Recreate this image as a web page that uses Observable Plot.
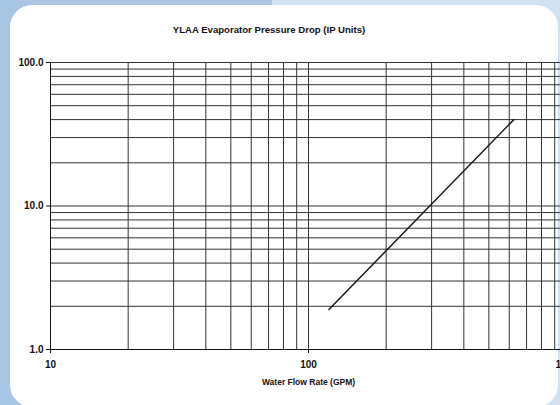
<!DOCTYPE html>
<html><head><meta charset="utf-8">
<script src="https://cdn.jsdelivr.net/npm/d3@7"></script>
<script src="https://cdn.jsdelivr.net/npm/@observablehq/plot@0.6"></script>
<style>
html,body{margin:0;padding:0;width:560px;height:405px;overflow:hidden;font-family:"Liberation Sans",Arial,sans-serif;}
body{position:relative;background:linear-gradient(to right,#a9c5e4 0,#a9c5e4 272px,#d0e1f3 272px,#d0e1f3 100%);}
#panel{position:absolute;left:10px;top:5px;width:548px;height:402px;background:#fff;border-radius:22px;}
#title{position:absolute;left:0;width:538px;top:24px;text-align:center;font-weight:bold;font-size:9.6px;color:#111;}
#chart{position:absolute;left:0;top:0;width:620px;height:405px;}
#chart svg{max-width:none !important;}
</style></head>
<body>
<div id="panel"></div>
<div id="title">YLAA Evaporator Pressure Drop (IP Units)</div>
<div id="chart"></div>
<script>
const flowGPM = [120, 625];
const pressureDrop = [1.9, 40];
const xGrid = [10,20,30,40,50,60,70,80,90,100,200,300,400,500,600,700,800,900,1000];
const yGrid = [1,2,3,4,5,6,7,8,9,10,20,30,40,50,60,70,80,90,100];
const xTicks = [10, 100, 1000];
const xTickLabels = ["10", "100", "1000"];
const yTicks = [1, 10, 100];
const yTickLabels = ["1.0", "10.0", "100.0"];
const xTitle = "Water Flow Rate (GPM)";

const data = flowGPM.map((x, i) => ({x, y: pressureDrop[i]}));
const fmtX = d => xTickLabels[xTicks.findIndex(t => Math.abs(t - d) < 1e-9)];
const fmtY = d => yTickLabels[yTicks.findIndex(t => Math.abs(t - d) < 1e-9)];

const chart = Plot.plot({
  width: 620, height: 405,
  marginLeft: 50, marginRight: 54, marginTop: 62, marginBottom: 56,
  style: {background: "transparent", fontFamily: "'Liberation Sans', Arial, sans-serif", fontSize: "10px", fontWeight: "bold", color: "#111", overflow: "visible", maxWidth: "none"},
  x: {type: "log", domain: [10, 1000]},
  y: {type: "log", domain: [1, 100]},
  marks: [
    Plot.ruleX(xGrid, {stroke: "#333", strokeWidth: 1}),
    Plot.ruleY(yGrid, {stroke: "#333", strokeWidth: 1}),
    Plot.axisX(xTicks, {tickSize: 4, tickPadding: 7, label: null, tickFormat: fmtX, stroke: "#111", fill: "#111"}),
    Plot.axisY(yTicks, {tickSize: 4, tickPadding: 3, label: null, tickFormat: fmtY, stroke: "#111", fill: "#111"}),
    Plot.ruleX([10], {stroke: "#111"}),
    Plot.ruleY([1], {stroke: "#111"}),
    Plot.line(data, {x: "x", y: "y", stroke: "#1a1a1a", strokeWidth: 1.5}),
    Plot.text([xTitle], {frameAnchor: "bottom", lineAnchor: "middle", dy: 33, fontSize: 8.5, fontWeight: "bold", fill: "#111"})
  ]
});
document.getElementById("chart").appendChild(chart);
</script>
</body></html>
